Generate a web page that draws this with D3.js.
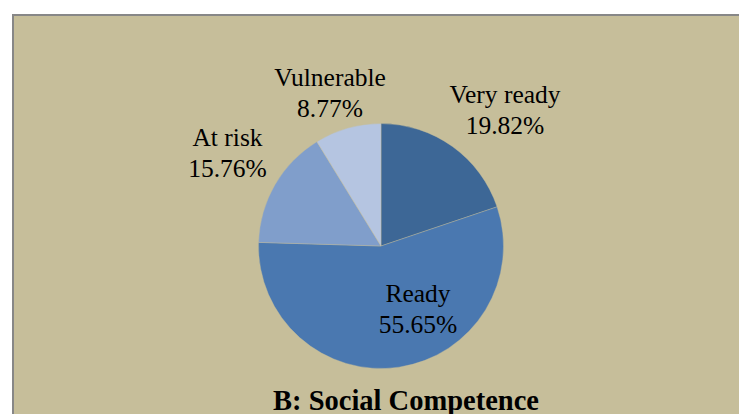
<!DOCTYPE html>
<html>
<head>
<meta charset="utf-8">
<script src="https://cdn.jsdelivr.net/npm/d3@7"></script>
<style>
  html, body { margin: 0; padding: 0; background: #ffffff; }
  svg { display: block; }
</style>
</head>
<body>
<svg id="chart" width="739" height="414"></svg>
<script>
// Social competence readiness distribution
const categories = ["Very ready", "Ready", "At risk", "Vulnerable"];
const values = [19.82, 55.65, 15.76, 8.77];
const colors = ["#3d6796", "#4a78b0", "#809ecb", "#b5c5e1"];
// label anchor: centre x and first-line baseline
const labelPos = [[505, 103], [418, 302], [227.5, 146], [330, 86]];
const title = "B: Social Competence";

const svg = d3.select("#chart");
const W = 739, H = 414;

// panel
svg.append("rect").attr("x", 13).attr("y", 15).attr("width", W).attr("height", H)
  .attr("fill", "#c6be9a").attr("stroke", "#878787").attr("stroke-width", 2);

const cx = 381, cy = 246, r = 122.5;
const pie = d3.pie().sort(null).value(d => d)(values);
const arc = d3.arc().innerRadius(0).outerRadius(r);

const g = svg.append("g").attr("transform", `translate(${cx},${cy})`);
g.selectAll("path").data(pie).join("path")
  .attr("d", arc)
  .attr("fill", (d, i) => colors[i])
  .attr("stroke", "#c6be9a").attr("stroke-width", 0.4);

const fmt = d3.format(".2f");
const labels = svg.append("g")
  .attr("font-family", "'Liberation Serif', 'Times New Roman', serif")
  .attr("font-size", 25.5).attr("fill", "#000").attr("text-anchor", "middle");
categories.forEach((c, i) => {
  const [x, y] = labelPos[i];
  labels.append("text").attr("x", x).attr("y", y).text(c);
  labels.append("text").attr("x", x).attr("y", y + 31).text(fmt(values[i]) + "%");
});

svg.append("text").attr("x", 406).attr("y", 410)
  .attr("text-anchor", "middle")
  .attr("font-family", "'Liberation Serif', 'Times New Roman', serif")
  .attr("font-weight", "bold").attr("font-size", 28.5).attr("fill", "#000")
  .text(title);
</script>
</body>
</html>
